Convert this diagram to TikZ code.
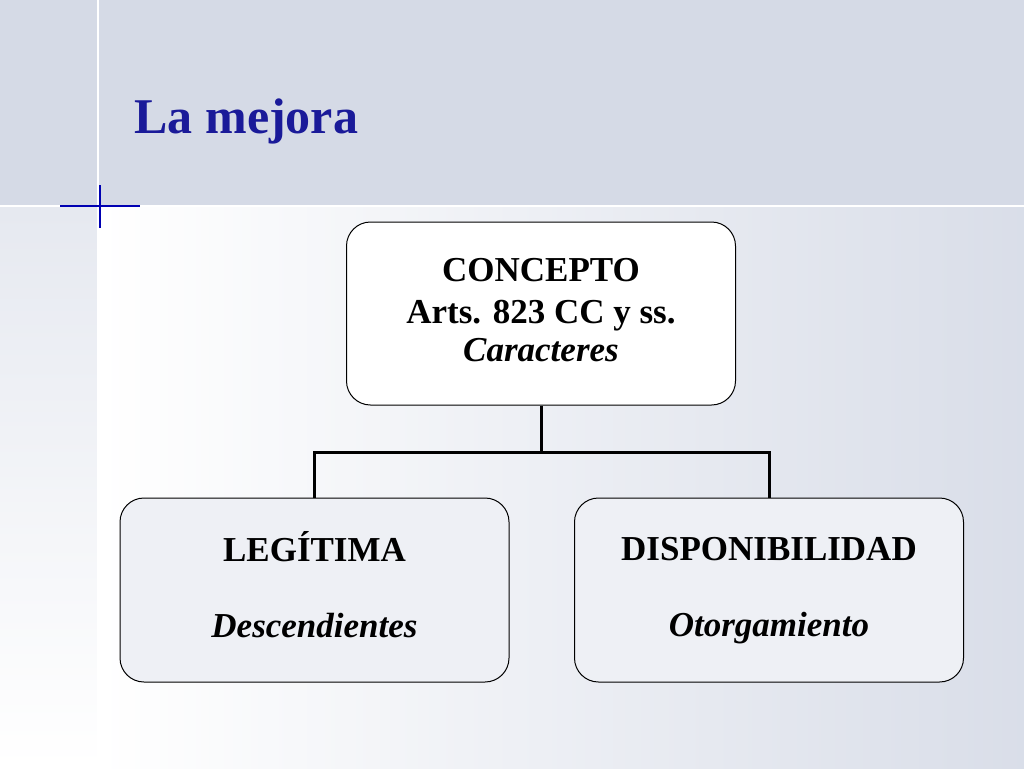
\documentclass[tikz,border=0pt]{standalone}
\usepackage{fontspec}
\setmainfont{Liberation Serif}
\begin{document}
\begin{tikzpicture}[x=1pt,y=-1pt,
  box/.style={draw=black,line width=1pt,rounded corners=24pt,minimum width=389pt,align=center,font=\bfseries\fontsize{35}{40}\selectfont},
  conn/.style={line width=3pt}]
\definecolor{band}{HTML}{D5DAE6}
\definecolor{tblue}{HTML}{1A1A99}
\useasboundingbox (0,0) rectangle (1024,768);
\shade[left color=white,right color=band!90] (98,205) rectangle (1024,768);
\shade[top color=band!60,bottom color=white] (0,205) rectangle (98,768);
\fill[band] (0,0) rectangle (1024,205);
\draw[white,line width=2pt] (98,0) -- (98,768);
\draw[white,line width=1.5pt] (0,206) -- (1024,206);
\draw[blue!70!black,line width=1.2pt] (60,206) -- (140,206);
\draw[blue!70!black,line width=1.2pt] (100,185) -- (100,228);
\node[anchor=base west,text=tblue,font=\bfseries\fontsize{50}{58}\selectfont] (title) at (131,133) {La mejora};
\node[box,fill=white,minimum height=183pt] (top) at (541,313.5) {CONCEPTO\strut\\[2pt]Arts. 823 CC y ss.\strut\\[-2pt]\textit{Caracteres}\strut};
\node[box,fill=band!40,minimum height=184pt] (left) at (314.5,590) {LEGÍTIMA\strut\\[36pt]\textit{Descendientes}\strut};
\node[box,fill=band!40,minimum height=184pt] (right) at (769,590) {DISPONIBILIDAD\strut\\[36pt]\textit{Otorgamiento}\strut};
\coordinate (j) at (541,452);
\draw[conn] (top.south) -- (j);
\draw[conn] (left.north) |- (j) -| (right.north);
\end{tikzpicture}
\end{document}
